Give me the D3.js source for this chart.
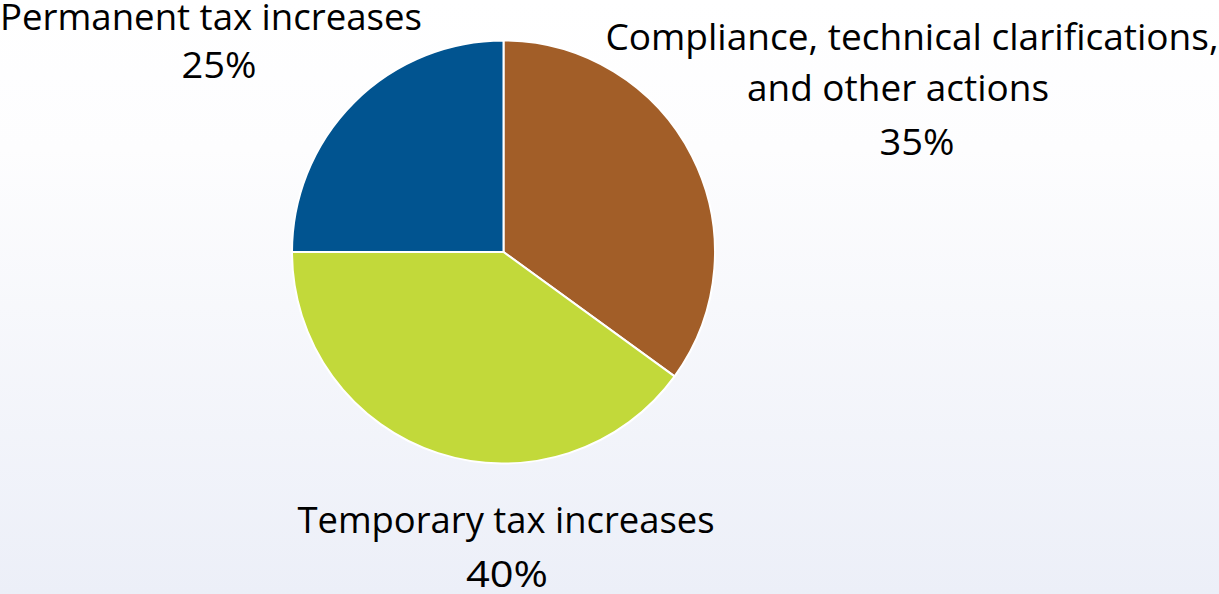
<!DOCTYPE html>
<html><head><meta charset="utf-8">
<script src="https://cdn.jsdelivr.net/npm/d3@7"></script>
<style>html,body{margin:0;padding:0;}svg{display:block;}</style>
</head><body>
<script>
const categories = ["Compliance, technical clarifications, and other actions", "Temporary tax increases", "Permanent tax increases"];
const values = [35, 40, 25];
const valueLabels = ["35%", "40%", "25%"];
const colors = ["#a25e28", "#c2d93a", "#015490"];

const W = 1219, H = 594;
const svg = d3.select("body").append("svg").attr("width", W).attr("height", H);
const defs = svg.append("defs");
const grad = defs.append("linearGradient").attr("id", "bg").attr("x1", 0).attr("y1", 0).attr("x2", 0).attr("y2", 1);
grad.append("stop").attr("offset", "0%").attr("stop-color", "#ffffff");
grad.append("stop").attr("offset", "25%").attr("stop-color", "#fdfdfe");
grad.append("stop").attr("offset", "100%").attr("stop-color", "#eceff8");
svg.append("rect").attr("width", W).attr("height", H).attr("fill", "url(#bg)");

const cx = 503.5, cy = 252, R = 211.5;
const pie = d3.pie().sort(null).value(d => d);
const arc = d3.arc().innerRadius(0).outerRadius(R);
svg.append("g").attr("transform", `translate(${cx},${cy})`)
  .selectAll("path").data(pie(values)).join("path")
  .attr("d", arc).attr("fill", (d, i) => colors[i])
  .attr("stroke", "#ffffff").attr("stroke-width", 2).attr("stroke-linejoin", "round");

// labels: [lines, x-center, baselines, widths]
const labelSpecs = [
  {lines: ["Compliance, technical clarifications,", "and other actions", valueLabels[0]], x: [912, 898, 917], y: [50, 101, 155], w: [613, 302, 75]},
  {lines: ["Temporary tax increases", valueLabels[1]], x: [506, 507], y: [533, 587], w: [417, 82]},
  {lines: ["Permanent tax increases", valueLabels[2]], x: [211, 219], y: [30, 78], w: [422, 75]}
];
const tg = svg.append("g").attr("font-family", "'Open Sans', 'Noto Sans', sans-serif").attr("fill", "#000");
labelSpecs.forEach(s => {
  s.lines.forEach((ln, j) => {
    tg.append("text").attr("x", s.x[j]).attr("y", s.y[j]).attr("text-anchor", "middle")
      .attr("font-size", 37).attr("textLength", s.w[j]).attr("lengthAdjust", "spacingAndGlyphs")
      .text(ln);
  });
});
</script>
</body></html>
